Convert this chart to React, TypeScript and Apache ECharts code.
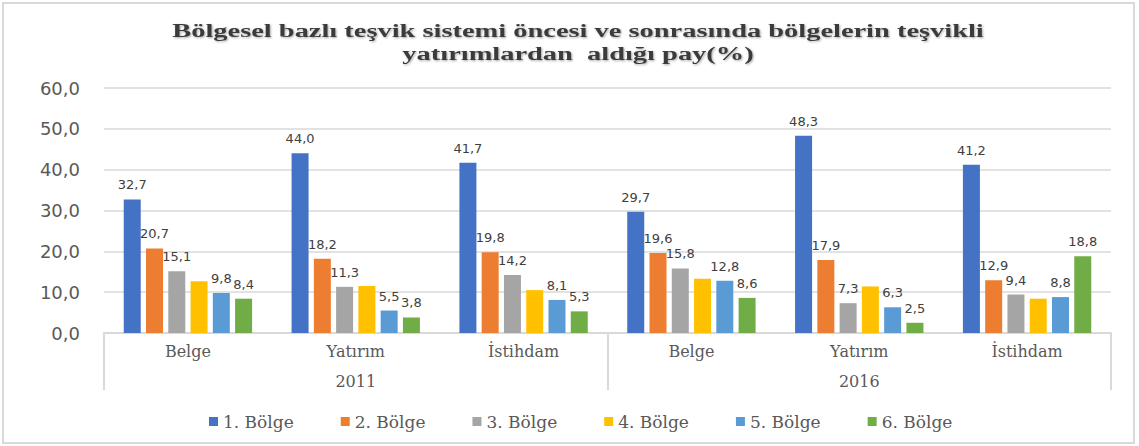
import React, { useEffect, useRef } from "react";
import * as echarts from "echarts";

const subCategories = ["Belge", "Yatırım", "İstihdam", "Belge", "Yatırım", "İstihdam"];
const years = ["2011", "2016"];
const seriesNames = ["1. Bölge", "2. Bölge", "3. Bölge", "4. Bölge", "5. Bölge", "6. Bölge"];
const bolge1 = [32.7, 44.0, 41.7, 29.7, 48.3, 41.2];
const bolge2 = [20.7, 18.2, 19.8, 19.6, 17.9, 12.9];
const bolge3 = [15.1, 11.3, 14.2, 15.8, 7.3, 9.4];
const bolge4 = [12.7, 11.5, 10.5, 13.3, 11.4, 8.4];
const bolge5 = [9.8, 5.5, 8.1, 12.8, 6.3, 8.8];
const bolge6 = [8.4, 3.8, 5.3, 8.6, 2.5, 18.8];
const colors = ["#4472C4", "#ED7D31", "#A5A5A5", "#FFC000", "#5B9BD5", "#70AD47"];
const showLabels = [true, true, true, false, true, true];
const titleLines = [
  "Bölgesel bazlı teşvik sistemi öncesi ve sonrasında bölgelerin teşvikli",
  "yatırımlardan  aldığı pay(%)",
];

const fmt = (v: number) => v.toFixed(1).replace(".", ",");

export default function App() {
  const ref = useRef<HTMLDivElement>(null);
  useEffect(() => {
    if (!ref.current) return;
    const chart = echarts.init(ref.current, null, { renderer: "svg" });
    const allData = [bolge1, bolge2, bolge3, bolge4, bolge5, bolge6];
    const titleStyle = {
      fill: "#3a3a3a",
      font: "bold 18px 'Liberation Serif'",
      textAlign: "center",
      textVerticalAlign: "middle",
      textShadowColor: "rgba(0,0,0,0.35)",
      textShadowBlur: 2,
      textShadowOffsetX: 1,
      textShadowOffsetY: 1,
    };
    chart.setOption({
      animation: false,
      color: colors,
      graphic: [
        {
          type: "rect",
          shape: { x: 3, y: 3, width: 1131, height: 440 },
          style: { fill: "none", stroke: "#D9D9D9", lineWidth: 2 },
          silent: true,
        },
        {
          type: "text",
          x: 578,
          y: 31,
          scaleX: 1.58,
          style: { ...titleStyle, text: titleLines[0] },
        },
        {
          type: "text",
          x: 578,
          y: 54,
          scaleX: 1.58,
          style: { ...titleStyle, text: titleLines[1] },
        },
      ],
      grid: { left: 104, right: 28, top: 88, bottom: 113, containLabel: false },
      legend: {
        data: seriesNames,
        left: 204,
        top: 408,
        icon: "rect",
        itemWidth: 9,
        itemHeight: 9,
        itemGap: 47,
        textStyle: { fontFamily: "DejaVu Serif", fontSize: 17, color: "#595959" },
      },
      xAxis: [
        {
          type: "category",
          data: subCategories,
          position: "bottom",
          axisLine: { show: true, lineStyle: { color: "#D9D9D9", width: 2 } },
          axisTick: { show: false },
          axisLabel: {
            margin: 10,
            fontFamily: "DejaVu Serif",
            fontSize: 16,
            color: "#595959",
          },
        },
        {
          type: "category",
          data: years,
          position: "bottom",
          axisLine: { show: false },
          axisTick: { show: true, length: 57, lineStyle: { color: "#D9D9D9", width: 2 } },
          axisLabel: {
            margin: 40,
            fontFamily: "DejaVu Serif",
            fontSize: 16,
            color: "#595959",
          },
        },
      ],
      yAxis: {
        type: "value",
        min: 0,
        max: 60,
        interval: 10,
        axisLine: { show: false },
        axisTick: { show: false },
        splitLine: { lineStyle: { color: "#D9D9D9", width: 1.5 } },
        axisLabel: {
          formatter: (v: number) => fmt(v),
          margin: 24,
          fontFamily: "DejaVu Sans",
          fontSize: 18,
          color: "#595959",
        },
      },
      series: allData.map((d, i) => ({
        name: seriesNames[i],
        type: "bar",
        xAxisIndex: 0,
        data: d,
        barWidth: 17,
        barGap: "31%",
        itemStyle: { color: colors[i] },
        label: {
          show: showLabels[i],
          position: "top",
          distance: 8,
          formatter: (p: any) => fmt(p.value),
          fontFamily: "DejaVu Sans",
          fontSize: 13,
          color: "#404040",
        },
      })),
    });
    return () => chart.dispose();
  }, []);
  return (
    <div
      ref={ref}
      style={{ position: "fixed", left: 0, top: 0, width: 1139, height: 446, background: "#fff" }}
    />
  );
}
